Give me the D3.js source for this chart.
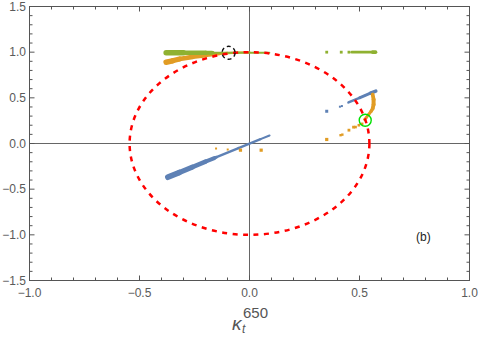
<!DOCTYPE html>
<html><head><meta charset="utf-8">
<script src="https://cdn.jsdelivr.net/npm/d3@7"></script>
<style>
html,body{margin:0;padding:0;background:#fff;}
svg{display:block;}
</style></head>
<body>
<svg id="chart" width="480" height="338"></svg>
<script>
// ---------- data ----------
const xTicks = [-1.0, -0.5, 0.0, 0.5, 1.0];
const yTicks = [-1.5, -1.0, -0.5, 0.0, 0.5, 1.0, 1.5];
// tracks: [x, y, weight]  (weight = relative marker density, mapped to width)
const blueTrackA = [[-0.371,-0.369,1.0],[-0.32,-0.318,0.85],[-0.26,-0.258,0.7],[-0.2,-0.199,0.55],[-0.16,-0.16,0.4],[-0.15,-0.15,0.12],[-0.05,-0.05,0.1],[0.05,0.048,0.05],[0.091,0.088,0]];
const blueTrackB = [[0.45,0.45,0.1],[0.5,0.5,0.2],[0.55,0.552,0.25],[0.574,0.573,0.5]];
const blueDots = [[0.351,0.353,0.25],[0.411,0.403,0],[0.42,0.41,0]];
const orangeTrackA = [[-0.379,0.89,0.9],[-0.35,0.905,0.85],[-0.318,0.925,0.75],[-0.258,0.948,0.62],[-0.197,0.966,0.5],[-0.16,0.975,0.35],[-0.136,0.982,0.2],[-0.1,0.99,0.05],[-0.05,0.995,0],[0.0,0.998,0]];
const orangeTrackB = [[0.523,0.263,0.2],[0.53,0.281,0.2],[0.542,0.318,0.25],[0.553,0.354,0.3],[0.56,0.383,0.4],[0.564,0.427,0.5],[0.564,0.482,0.5],[0.56,0.536,0.4]];
const orangeDots = [[0.351,0.044,0.3],[0.414,0.091,0.1],[0.422,0.097,0.1],[0.452,0.146,0.2],[0.473,0.179,0.2],[0.482,0.18,0.15],[0.497,0.2,0.15],[0.512,0.215,0.15],[-0.152,-0.055,0],[-0.099,-0.066,0],[-0.041,-0.073,0.3],[0.053,-0.073,0.3]];
const greenTrackA = [[-0.379,0.993,1.0],[-0.3,0.993,0.7],[-0.2,0.993,0.55],[-0.17,0.993,0.5],[-0.165,0.993,0.0],[0.09,0.993,0]];
const greenTrackB = [[0.465,1.0,0.2],[0.56,1.0,0.2],[0.573,1.0,0.6]];
const greenDots = [[0.351,1.0,0.2],[0.417,1.0,0.2],[0.452,1.0,0.2]];
const ellipseCenter = [0.0, 0.0];
const ellipseRadii = [0.545, 1.0];
const blackMark = [-0.095, 0.993];
const greenMark = [0.526, 0.255];
const panelLabel = "(b)";

// ---------- layout ----------
const svg = d3.select("#chart");
const x = d3.scaleLinear().domain([-1, 1]).range([29.5, 469.5]);
const y = d3.scaleLinear().domain([-1.5, 1.5]).range([280.5, 6.5]);
const w = d3.scaleLinear().domain([0, 1]).range([2, 6]);
const colors = {blue:"#5e81b5", orange:"#e19c24", green:"#8fb131"};
const frameColor = "#555";
const fmt = d3.format(".1f");

// axes lines through origin
svg.append("line").attr("x1", x(-1)).attr("x2", x(1)).attr("y1", y(0)).attr("y2", y(0))
  .attr("stroke", "#666").attr("stroke-width", 1);
svg.append("line").attr("x1", x(0)).attr("x2", x(0)).attr("y1", y(-1.5)).attr("y2", y(1.5))
  .attr("stroke", "#666").attr("stroke-width", 1);

// data
function drawTrack(data, color) {
  const g = svg.append("g");
  for (let i = 0; i < data.length - 1; i++) {
    const a = data[i], b = data[i+1];
    g.append("line")
      .attr("x1", x(a[0])).attr("y1", y(a[1]))
      .attr("x2", x(b[0])).attr("y2", y(b[1]))
      .attr("stroke", color).attr("stroke-linecap", "round")
      .attr("stroke-width", (w(a[2]) + w(b[2])) / 2);
  }
}
function drawDots(data, color) {
  svg.append("g").selectAll("rect").data(data).join("rect")
    .attr("x", d => x(d[0]) - w(d[2]) / 2)
    .attr("y", d => y(d[1]) - w(d[2]) / 2)
    .attr("width", d => w(d[2])).attr("height", d => w(d[2]))
    .attr("fill", color);
}
drawTrack(blueTrackA, colors.blue);
drawTrack(blueTrackB, colors.blue);
drawDots(blueDots, colors.blue);
drawTrack(orangeTrackA, colors.orange);
drawTrack(orangeTrackB, colors.orange);
drawDots(orangeDots, colors.orange);
drawTrack(greenTrackA, colors.green);
drawTrack(greenTrackB, colors.green);
drawDots(greenDots, colors.green);

// dashed ellipse
svg.append("ellipse")
  .attr("cx", x(ellipseCenter[0])).attr("cy", y(ellipseCenter[1]))
  .attr("rx", x(ellipseRadii[0]) - x(0)).attr("ry", y(0) - y(ellipseRadii[1]))
  .attr("fill", "none").attr("stroke", "#ff0000").attr("stroke-width", 2.5)
  .attr("stroke-dasharray", "5,5.5");

// marker circles
svg.append("circle").attr("cx", x(blackMark[0])).attr("cy", y(blackMark[1])).attr("r", 6.5)
  .attr("fill", "none").attr("stroke", "#111").attr("stroke-width", 1.4).attr("stroke-dasharray", "4,3");
svg.append("circle").attr("cx", x(greenMark[0])).attr("cy", y(greenMark[1])).attr("r", 6)
  .attr("fill", "none").attr("stroke", "#00e000").attr("stroke-width", 1.4);

// frame
svg.append("rect").attr("x", x(-1)).attr("y", y(1.5)).attr("width", x(1) - x(-1)).attr("height", y(-1.5) - y(1.5))
  .attr("fill", "none").attr("stroke", frameColor).attr("stroke-width", 1);

// ticks
const xMinor = d3.range(-10, 11).map(i => i / 10);
const yMinor = d3.range(-15, 16).map(i => i / 10);
const isMajor = v => Math.abs(Math.round(v * 2) - v * 2) < 1e-9;
const tg = svg.append("g").attr("stroke", frameColor).attr("stroke-width", 1);
xMinor.forEach(v => {
  const L = isMajor(v) ? 5 : 3;
  tg.append("line").attr("x1", x(v)).attr("x2", x(v)).attr("y1", y(-1.5)).attr("y2", y(-1.5) - L);
  tg.append("line").attr("x1", x(v)).attr("x2", x(v)).attr("y1", y(1.5)).attr("y2", y(1.5) + L);
});
yMinor.forEach(v => {
  const L = isMajor(v) ? 5 : 3;
  tg.append("line").attr("y1", y(v)).attr("y2", y(v)).attr("x1", x(-1)).attr("x2", x(-1) + L);
  tg.append("line").attr("y1", y(v)).attr("y2", y(v)).attr("x1", x(1)).attr("x2", x(1) - L);
});

// tick labels
const font = "'Liberation Sans', Arial, sans-serif";
svg.append("g").selectAll("text").data(xTicks).join("text")
  .attr("x", d => x(d)).attr("y", 297).attr("text-anchor", "middle")
  .attr("font-family", font).attr("font-size", 12).attr("fill", "#5a5a5a")
  .text(d => fmt(d));
svg.append("g").selectAll("text").data(yTicks).join("text")
  .attr("x", 26).attr("y", d => y(d) + 4.3).attr("text-anchor", "end")
  .attr("font-family", font).attr("font-size", 12).attr("fill", "#5a5a5a")
  .text(d => fmt(d));

// axis label kappa_t^650
svg.append("text").attr("x", 232).attr("y", 330).attr("font-family", font)
  .attr("font-size", 19).attr("font-style", "italic").attr("fill", "#555").text("κ");
svg.append("text").attr("x", 242).attr("y", 333).attr("font-family", font)
  .attr("font-size", 12).attr("font-style", "italic").attr("fill", "#555").text("t");
svg.append("text").attr("x", 243).attr("y", 318).attr("font-family", font)
  .attr("font-size", 15).attr("fill", "#555").text("650");

// panel label
svg.append("text").attr("x", 416).attr("y", 241).attr("font-family", font)
  .attr("font-size", 12).attr("fill", "#222").text(panelLabel);
</script>
</body></html>
